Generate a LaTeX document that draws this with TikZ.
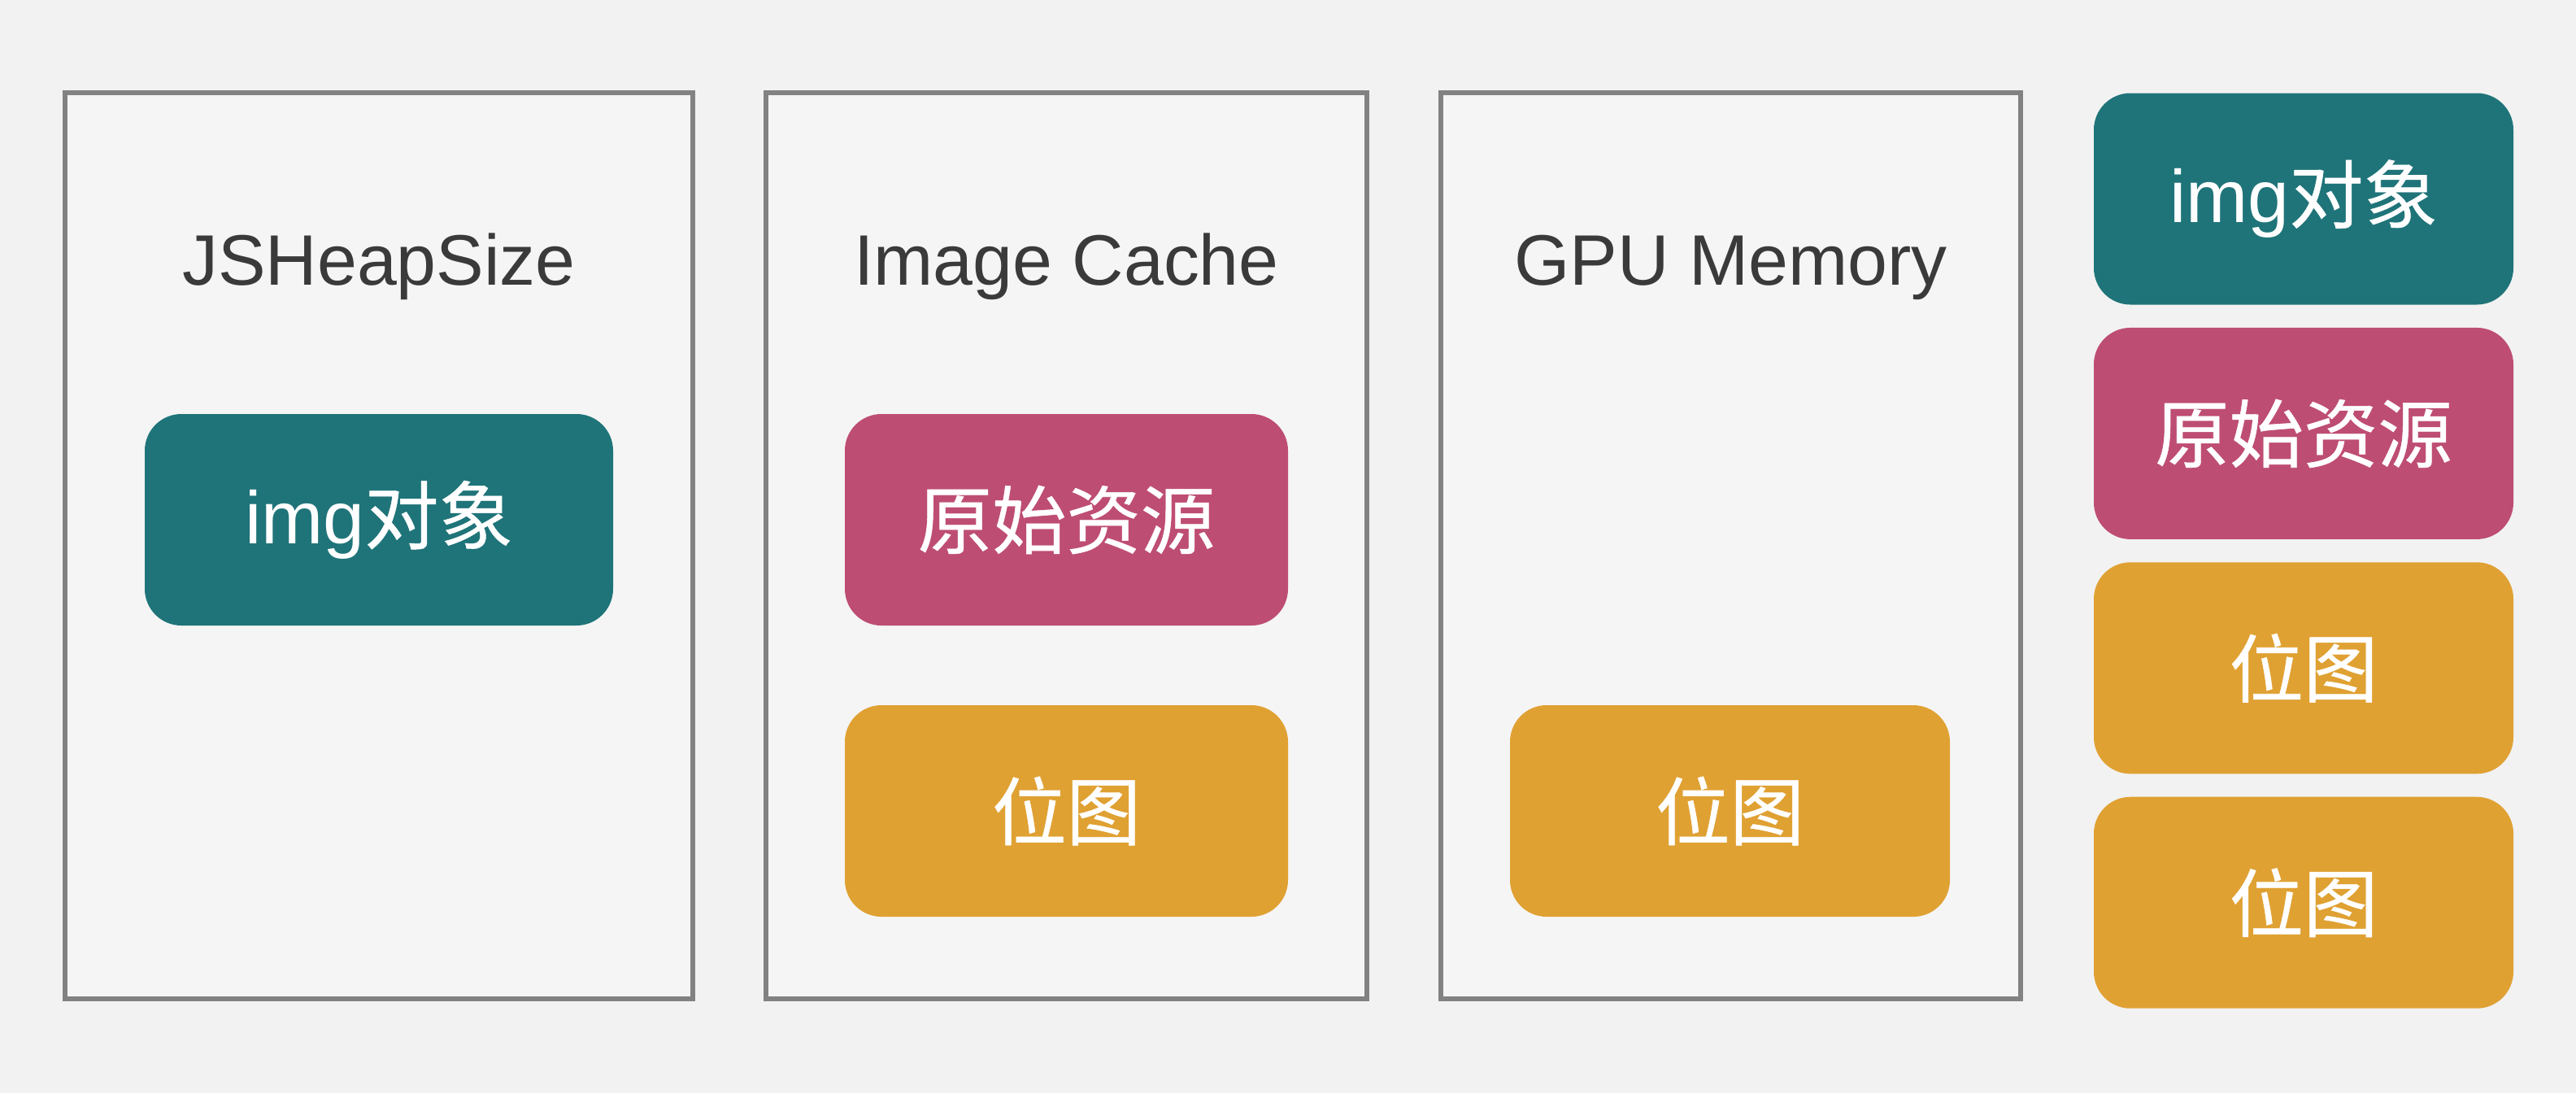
\documentclass[tikz,border=0pt]{standalone}
\usepackage{fontspec}
\setmainfont{Liberation Sans}
\newfontfamily\cjk[FakeBold=0.6]{Noto Sans CJK SC}
\usetikzlibrary{positioning}
\definecolor{bgcol}{HTML}{F2F2F2}
\definecolor{panelfill}{HTML}{F5F5F5}
\definecolor{framegray}{HTML}{828282}
\definecolor{titlegray}{HTML}{3A3A3A}
\definecolor{tealobj}{HTML}{1F7479}
\definecolor{pinksrc}{HTML}{BE4D74}
\definecolor{orangebmp}{HTML}{E0A133}
\tikzset{
	panel/.style = {rectangle, draw=framegray, line width=1.7pt, fill=panelfill, 
		minimum height=11.135cm, inner sep=0pt},
	title/.style = {anchor=base, text=titlegray, font=\fontsize{25}{30}\selectfont},
	block/.style = {rectangle, rounded corners=0.45cm, inner sep=0pt, text=white, 
		font=\fontsize{26}{30}\selectfont, minimum height=2.6cm},
	objbox/.style = {block, fill=tealobj},
	srcbox/.style = {block, fill=pinksrc},
	bmpbox/.style = {block, fill=orangebmp}
}

\begin{document}
\begin{tikzpicture}
\path[use as bounding box, fill=bgcol] (0,0) rectangle (31.68,-13.44);
%----------------- Panels --------------
\node (heap) [panel, minimum width=7.715cm] at (4.66,-6.71) {};
\node (cache) [panel, minimum width=7.39cm] at (13.115,-6.71) {};
\node (gpu) [panel, minimum width=7.13cm] at (21.285,-6.71) {};
\node (heapT) [title] at (heap.center |- 0,-3.5) {JSHeapSize};
\node (cacheT) [title] at (cache.center |- 0,-3.5) {Image Cache};
\node (gpuT) [title] at (gpu.center |- 0,-3.5) {GPU Memory};
%----------------- Blocks inside --------------
\node (heapObj) [objbox, minimum width=5.76cm] at (4.66,-6.39) {img{\cjk 对象}};
\node (cacheSrc) [srcbox, minimum width=5.45cm] at (13.115,-6.39) {\cjk 原始资源};
\node (cacheBmp) [bmpbox, minimum width=5.45cm] at (13.115,-9.97) {\cjk 位图};
\node (gpuBmp) [bmpbox, minimum width=5.41cm] at (21.275,-9.97) {\cjk 位图};
%----------------- Right column --------------
\begin{scope}[every node/.append style={minimum width=5.16cm, minimum height=2.59cm}]
	\node (sumObj) [objbox] at (28.33,-2.445) {img{\cjk 对象}};
	\node (sumSrc) [srcbox, below=0.27cm of sumObj] {\cjk 原始资源};
	\node (sumBmpA) [bmpbox, below=0.27cm of sumSrc] {\cjk 位图};
	\node (sumBmpB) [bmpbox, below=0.27cm of sumBmpA] {\cjk 位图};
\end{scope}
\end{tikzpicture}
\end{document}
